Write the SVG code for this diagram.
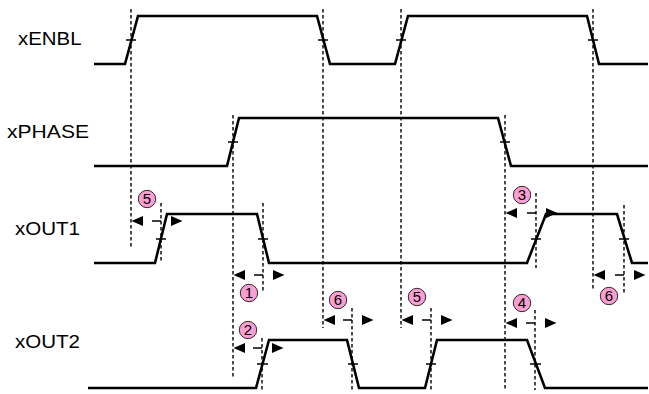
<svg xmlns="http://www.w3.org/2000/svg" xmlns:xlink="http://www.w3.org/1999/xlink" width="649" height="394" viewBox="0 0 649 394">
<style>
.sig{fill:none;stroke:#000;stroke-width:2.6;stroke-linejoin:miter}
.tick{stroke:#000;stroke-width:1.4}
.dash{stroke:#000;stroke-width:1.4;stroke-dasharray:3.5,2.5;fill:none}
.lbl{font-family:"Liberation Sans",Arial,sans-serif;font-size:17.7px;fill:#000}
.num{font-family:"Liberation Sans",Arial,sans-serif;font-size:15px;fill:#000;text-anchor:middle}
.badge{fill:#f99fd2;stroke:#000;stroke-width:0.8}
.mid{stroke:#000;stroke-width:1.5}
</style>
<defs>
<polygon id="al" points="0,0 11.5,-5 11.5,5" fill="#000"/>
<polygon id="ar" points="0,-5 11.5,0 0,5" fill="#000"/>
</defs>
<rect width="649" height="394" fill="#fff"/>

<g id="xENBL">
<text class="lbl" x="18" y="45" textLength="63.5" lengthAdjust="spacingAndGlyphs">xENBL</text>
<path class="sig" d="M94,64 H125 L138,16 H317 L330,64 H395 L408,16 H587 L599,64 H648"/>
<path class="tick" d="M126,40H136 M318,40H328 M396,40H406 M588,40H598"/>
</g>
<g id="xPHASE">
<text class="lbl" x="7" y="138" textLength="82" lengthAdjust="spacingAndGlyphs">xPHASE</text>
<path class="sig" d="M94,166 H227 L239,118 H498 L511,166 H648"/>
<path class="tick" d="M228,142H238 M500,142H510"/>
</g>
<g id="xOUT1">
<text class="lbl" x="15" y="235" textLength="65" lengthAdjust="spacingAndGlyphs">xOUT1</text>
<path class="sig" d="M94,263 H155 L167,214 H257 L269,263 H527 L546,214 H617 L632,263 H648"/>
<path class="tick" d="M156,239H166 M258,239H268 M531,239H541 M619,239H629"/>
</g>
<g id="xOUT2">
<text class="lbl" x="15" y="348" textLength="65" lengthAdjust="spacingAndGlyphs">xOUT2</text>
<path class="sig" d="M88,388 H256 L269,340 H347 L359,388 H425 L437,340 H527 L545,388 H648"/>
<path class="tick" d="M257,364H268 M348,364H358 M426,364H436 M530,364H541"/>
</g>

<g id="connectors">
<path class="dash" d="M131,9V247 M323,9V328 M401,9V328 M593,9V290 M233,115V378 M505,115V390 M161,203V263 M263,203V293 M536,193V268 M624,205V293 M262,338V390 M352,308V390 M431,308V390 M535,310V390"/>
<use xlink:href="#al" x="131.5" y="221"/><line class="mid" x1="152" y1="221" x2="161" y2="221"/><use xlink:href="#ar" x="171" y="221"/>
<use xlink:href="#al" x="233.5" y="275"/><line class="mid" x1="254" y1="275" x2="263" y2="275"/><use xlink:href="#ar" x="273" y="275"/>
<use xlink:href="#al" x="505.5" y="213"/><line class="mid" x1="527" y1="213" x2="536" y2="213"/><use xlink:href="#ar" x="546" y="213"/>
<use xlink:href="#al" x="593.5" y="275"/><line class="mid" x1="615" y1="275" x2="624" y2="275"/><use xlink:href="#ar" x="634" y="275"/>
<use xlink:href="#al" x="233.5" y="348"/><line class="mid" x1="253" y1="348" x2="262" y2="348"/><use xlink:href="#ar" x="272" y="348"/>
<use xlink:href="#al" x="323.5" y="320"/><line class="mid" x1="343" y1="320" x2="352" y2="320"/><use xlink:href="#ar" x="362" y="320"/>
<use xlink:href="#al" x="401.5" y="320"/><line class="mid" x1="422" y1="320" x2="431" y2="320"/><use xlink:href="#ar" x="441" y="320"/>
<use xlink:href="#al" x="505.5" y="323"/><line class="mid" x1="526" y1="323" x2="535" y2="323"/><use xlink:href="#ar" x="545" y="323"/>
</g>

<g id="badge5a"><circle class="badge" cx="147" cy="199" r="8.7"/><text class="num" x="147" y="204.4">5</text></g>
<g id="badge1"><circle class="badge" cx="249" cy="293" r="8.7"/><text class="num" x="249" y="298.4">1</text></g>
<g id="badge3"><circle class="badge" cx="522" cy="195" r="8.7"/><text class="num" x="522" y="200.4">3</text></g>
<g id="badge6a"><circle class="badge" cx="609" cy="296" r="8.7"/><text class="num" x="609" y="301.4">6</text></g>
<g id="badge2"><circle class="badge" cx="248" cy="330" r="8.7"/><text class="num" x="248" y="335.4">2</text></g>
<g id="badge6b"><circle class="badge" cx="338" cy="300" r="8.7"/><text class="num" x="338" y="305.4">6</text></g>
<g id="badge5b"><circle class="badge" cx="417" cy="297" r="8.7"/><text class="num" x="417" y="302.4">5</text></g>
<g id="badge4"><circle class="badge" cx="522" cy="303" r="8.7"/><text class="num" x="522" y="308.4">4</text></g>
</svg>
